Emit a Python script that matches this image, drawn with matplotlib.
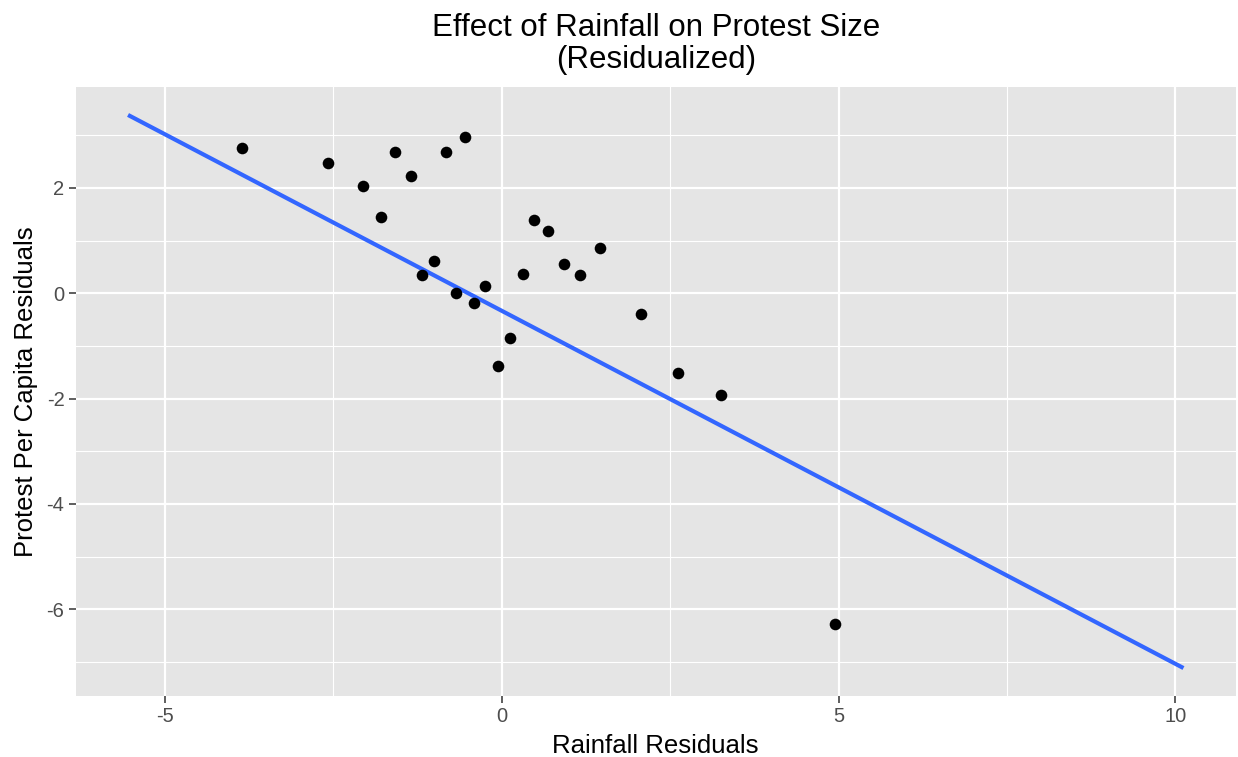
import matplotlib
matplotlib.use("Agg")
import matplotlib.pyplot as plt
from matplotlib.ticker import MultipleLocator

plt.rcParams['font.family'] = ['Liberation Sans', 'DejaVu Sans']

# residualized rainfall (x) and protest per capita (y)
rain_resid = [-3.86, -2.58, -2.06, -1.80, -1.58, -1.35, -1.18, -1.01, -0.83,
              -0.68, -0.55, -0.42, -0.25, -0.05, 0.12, 0.31, 0.48, 0.68,
              0.92, 1.16, 1.45, 2.07, 2.61, 3.26, 4.94]
protest_resid = [2.76, 2.48, 2.04, 1.45, 2.69, 2.23, 0.35, 0.62, 2.69,
                 0.01, 2.97, -0.18, 0.13, -1.38, -0.84, 0.36, 1.39, 1.19,
                 0.55, 0.35, 0.85, -0.39, -1.51, -1.94, -6.27]

# fitted regression line end points
fit_x = [-5.55, 10.12]
fit_y = [3.385, -7.115]

fig = plt.figure(figsize=(12.38, 7.57), dpi=100)
ax = fig.add_axes([75.5 / 1238, 1 - 695.7 / 757, (1236 - 75.5) / 1238, (695.7 - 87.3) / 757])

ax.set_facecolor('#E5E5E5')
for s in ax.spines.values():
    s.set_visible(False)

ax.plot(fit_x, fit_y, color='#3366FF', lw=3.0, solid_capstyle='butt', zorder=3)
ax.scatter(rain_resid, protest_resid, s=70, color='black', linewidths=0, zorder=4)

ax.set_xlim(-6.33, 10.90)
ax.set_ylim(-7.64, 3.91)

ax.xaxis.set_minor_locator(MultipleLocator(2.5))
ax.yaxis.set_minor_locator(MultipleLocator(1))
ax.set_xticks([-5, 0, 5, 10])
ax.set_xticklabels(['-5', '0', '5', '10'])
ax.set_yticks([-6, -4, -2, 0, 2])
ax.set_yticklabels(['-6', '-4', '-2', '0', '2'])

ax.grid(which='major', color='white', lw=1.6)
ax.grid(which='minor', color='white', lw=0.8)
ax.set_axisbelow(True)

ax.tick_params(which='major', length=5, width=1.1, color='#333333',
               labelcolor='#4D4D4D', labelsize=14.5, pad=3)
ax.tick_params(which='minor', length=0)

ax.set_xlabel('Rainfall Residuals', fontsize=18.5, labelpad=6)
ax.set_ylabel('Protest Per Capita Residuals', fontsize=18.5, labelpad=6)
ax.set_title('Effect of Rainfall on Protest Size\n(Residualized)', fontsize=22.5,
             pad=14, linespacing=1.08)

fig.savefig('out.png', dpi=100)
